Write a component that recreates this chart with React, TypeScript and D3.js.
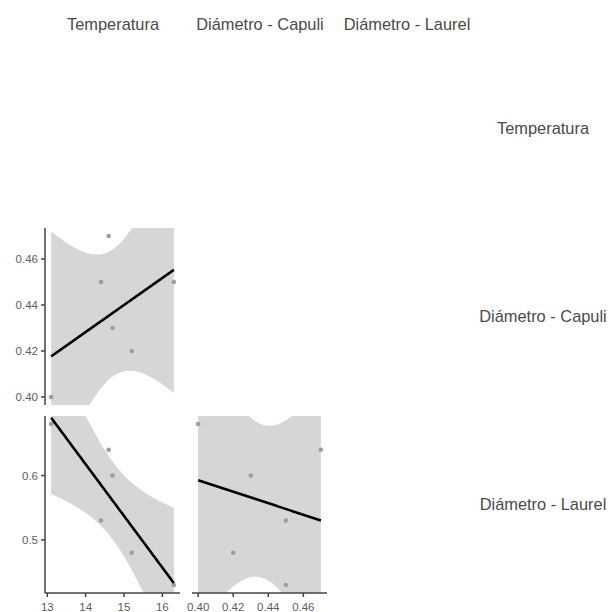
import React from "react";
import * as d3 from "d3";

const varNames = ["Temperatura", "Diámetro - Capuli", "Diámetro - Laurel"];
const temperatura = [13.1, 14.4, 14.6, 14.7, 15.2, 16.3];
const capuli = [0.40, 0.45, 0.47, 0.43, 0.42, 0.45];
const laurel = [0.68, 0.53, 0.64, 0.60, 0.48, 0.43];
const tempTicks = [13, 14, 15, 16];
const capuliTicks = [0.40, 0.42, 0.44, 0.46];
const laurelTicks = [0.5, 0.6];
const tickFormats = ["d", ".2f", ".1f"];

const series = [temperatura, capuli, laurel];
const tickSets = [tempTicks, capuliTicks, laurelTicks];

const colX = [45, 192, 339];
const rowY = [40, 228, 416];
const PW = 135;
const PH = 177;
const T975_DF4 = 2.776445;

function expanded(v: number[]): [number, number] {
  const mn = d3.min(v)!;
  const mx = d3.max(v)!;
  const r = mx - mn;
  return [mn - 0.05 * r, mx + 0.05 * r];
}

function fit(x: number[], y: number[]) {
  const n = x.length;
  const xm = d3.mean(x)!;
  const ym = d3.mean(y)!;
  let sxx = 0, sxy = 0;
  for (let i = 0; i < n; i++) {
    sxx += (x[i] - xm) ** 2;
    sxy += (x[i] - xm) * (y[i] - ym);
  }
  const b = sxy / sxx;
  const a = ym - b * xm;
  let sse = 0;
  for (let i = 0; i < n; i++) sse += (y[i] - a - b * x[i]) ** 2;
  const sigma = Math.sqrt(sse / (n - 2));
  return { a, b, sigma, xm, sxx, n };
}

function Panel({ ci, ri }: { ci: number; ri: number }) {
  const xs = series[ci];
  const ys = series[ri];
  const x0 = colX[ci];
  const y0 = rowY[ri];
  const xScale = d3.scaleLinear().domain(expanded(xs)).range([x0, x0 + PW]);
  const yScale = d3.scaleLinear().domain(expanded(ys)).range([y0 + PH, y0]);
  const f = fit(xs, ys);
  const [xmin, xmax] = d3.extent(xs) as [number, number];
  const grid = d3.range(0, 81).map((i) => xmin + ((xmax - xmin) * i) / 80);
  const bandData = grid.map((x) => {
    const yhat = f.a + f.b * x;
    const se = f.sigma * Math.sqrt(1 / f.n + (x - f.xm) ** 2 / f.sxx);
    return { x, lo: yhat - T975_DF4 * se, hi: yhat + T975_DF4 * se, y: yhat };
  });
  const area = d3
    .area<any>()
    .x((d) => xScale(d.x))
    .y0((d) => yScale(d.lo))
    .y1((d) => yScale(d.hi));
  const line = d3
    .line<any>()
    .x((d) => xScale(d.x))
    .y((d) => yScale(d.y));
  const clipId = `clip-${ci}-${ri}`;
  return (
    <g>
      <defs>
        <clipPath id={clipId}>
          <rect x={x0} y={y0} width={PW} height={PH} />
        </clipPath>
      </defs>
      <g clipPath={`url(#${clipId})`}>
        <path d={area(bandData)!} fill="#d6d6d6" />
        {xs.map((x, i) => (
          <circle key={i} cx={xScale(x)} cy={yScale(ys[i])} r={2.3} fill="#9e9e9e" />
        ))}
        <path d={line(bandData)!} fill="none" stroke="#000" strokeWidth={2.6} />
      </g>
    </g>
  );
}

function YAxis({ ri }: { ri: number }) {
  const y0 = rowY[ri];
  const yScale = d3.scaleLinear().domain(expanded(series[ri])).range([y0 + PH, y0]);
  const fmt = d3.format(tickFormats[ri]);
  const x = colX[0];
  return (
    <g>
      <line x1={x} x2={x} y1={y0} y2={y0 + PH} stroke="#444" strokeWidth={1.5} />
      {tickSets[ri].map((t) => (
        <g key={t}>
          <line x1={x - 4} x2={x} y1={yScale(t)} y2={yScale(t)} stroke="#444" strokeWidth={1.5} />
          <text x={x - 7} y={yScale(t)} dy="0.35em" textAnchor="end" fontSize={11.5} fill="#5e5e5e">
            {fmt(t)}
          </text>
        </g>
      ))}
    </g>
  );
}

function XAxis({ ci }: { ci: number }) {
  const x0 = colX[ci];
  const xScale = d3.scaleLinear().domain(expanded(series[ci])).range([x0, x0 + PW]);
  const fmt = d3.format(tickFormats[ci]);
  const y = rowY[2] + PH;
  return (
    <g>
      <line x1={x0} x2={x0 + PW} y1={y} y2={y} stroke="#444" strokeWidth={1.5} />
      {tickSets[ci].map((t) => (
        <g key={t}>
          <line x1={xScale(t)} x2={xScale(t)} y1={y} y2={y + 4} stroke="#444" strokeWidth={1.5} />
          <text x={xScale(t)} y={y + 17.5} textAnchor="middle" fontSize={11.5} fill="#5e5e5e">
            {fmt(t)}
          </text>
        </g>
      ))}
    </g>
  );
}

export default function App() {
  const panels: [number, number][] = [
    [0, 1],
    [0, 2],
    [1, 2],
  ];
  return (
    <svg
      width={609}
      height={612}
      style={{ position: "absolute", left: 0, top: 0, background: "#fff" }}
      fontFamily="'Liberation Sans', Arial, sans-serif"
    >
      {varNames.map((name, i) => (
        <text key={"c" + i} x={colX[i] + PW / 2 + 0.5} y={24} dy="0.35em" textAnchor="middle" fontSize={16.4} fill="#4a4a4a">
          {name}
        </text>
      ))}
      {varNames.map((name, i) => (
        <text key={"r" + i} x={543} y={rowY[i] + PH / 2} dy="0.35em" textAnchor="middle" fontSize={16.4} fill="#4a4a4a">
          {name}
        </text>
      ))}
      {panels.map(([c, r]) => (
        <Panel key={`${c}-${r}`} ci={c} ri={r} />
      ))}
      <YAxis ri={1} />
      <YAxis ri={2} />
      <XAxis ci={0} />
      <XAxis ci={1} />
    </svg>
  );
}
